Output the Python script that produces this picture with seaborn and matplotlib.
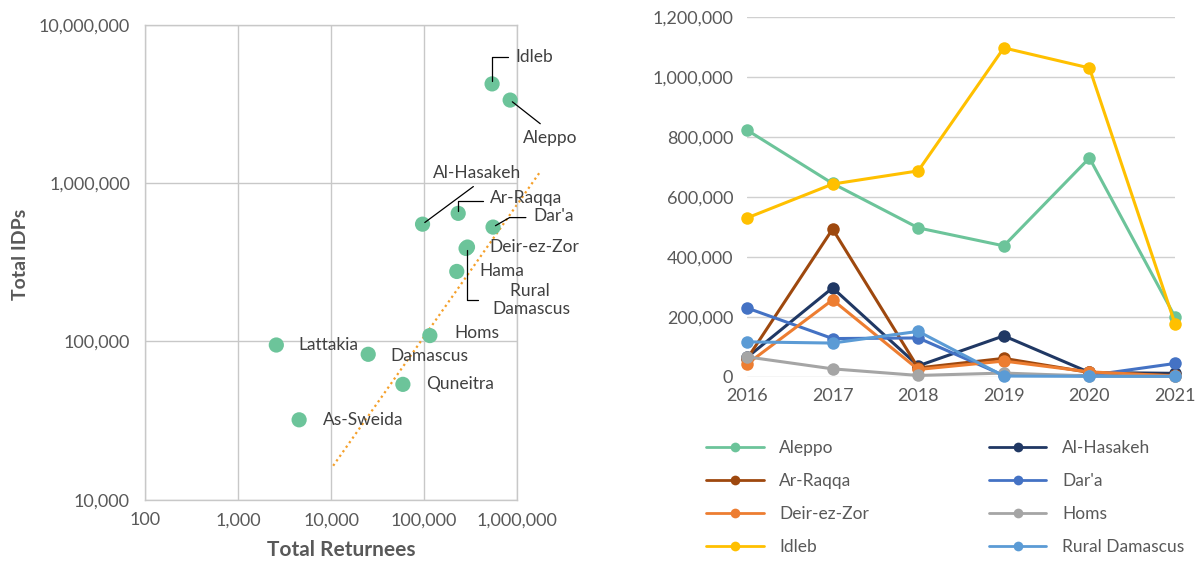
import matplotlib
matplotlib.use("Agg")
import matplotlib.pyplot as plt
import matplotlib.ticker as mticker
from matplotlib.lines import Line2D
import numpy as np
import pandas as pd
import seaborn as sns

# --- scatter data (left panel) ---
governorates = [
    "Idleb", "Aleppo", "Al-Hasakeh", "Ar-Raqqa", "Dar'a", "Deir-ez-Zor",
    "Rural Damascus", "Hama", "Homs", "Lattakia", "Damascus", "Quneitra", "As-Sweida",
]
total_returnees = [537000, 840000, 96000, 232000, 550000, 282000,
                   292000, 224000, 115000, 2570, 25000, 59000, 4520]
total_idps = [4240000, 3350000, 551000, 645000, 528000, 387000,
              395000, 277000, 109000, 95000, 83000, 53600, 32000]
trend_x = [10500, 1800000]
trend_y = [16400, 1200000]

# --- yearly IDP data (right panel) ---
years = [2016, 2017, 2018, 2019, 2020, 2021]
aleppo = [823000, 645000, 497000, 437000, 730000, 200000]
al_hasakeh = [65000, 297000, 37000, 137000, 15000, 12000]
ar_raqqa = [60000, 493000, 30000, 62000, 15000, 5000]
daraa = [230000, 128000, 130000, 5000, 5000, 45000]
deir_ez_zor = [43000, 257000, 25000, 53000, 17000, 3000]
homs = [67000, 27000, 5000, 13000, 3000, 2000]
idleb = [530000, 643000, 687000, 1097000, 1030000, 177000]
rural_damascus = [117000, 113000, 152000, 3000, 2000, 2000]

series_names = ["Aleppo", "Al-Hasakeh", "Ar-Raqqa", "Dar'a",
                "Deir-ez-Zor", "Homs", "Idleb", "Rural Damascus"]
series_values = [aleppo, al_hasakeh, ar_raqqa, daraa,
                 deir_ez_zor, homs, idleb, rural_damascus]
series_colors = ["#6CC49A", "#203864", "#9E480E", "#4472C4",
                 "#ED7D31", "#A5A5A5", "#FFC000", "#5B9BD5"]

sns.set_theme(style="white")
plt.rcParams["font.family"] = ["Lato", "DejaVu Sans"]

TICK_COLOR = "#595959"
LABEL_COLOR = "#404040"
GRID_COLOR = "#C8C8C8"

fig = plt.figure(figsize=(12, 5.66), dpi=100)

# ================= left: scatter on log-log =================
ax1 = fig.add_axes([0.121, 0.117, 0.310, 0.839])
df_sc = pd.DataFrame({"gov": governorates, "ret": total_returnees, "idp": total_idps})
sns.scatterplot(data=df_sc, x="ret", y="idp", color="#6CC49A", s=120,
                edgecolor="none", ax=ax1, zorder=3, clip_on=False)
ax1.plot(trend_x, trend_y, linestyle=(0, (1, 1.5)), color="#F5A02A",
         linewidth=1.6, clip_on=False, zorder=2)
ax1.set_xscale("log")
ax1.set_yscale("log")
ax1.set_xlim(100, 1e6)
ax1.set_ylim(1e4, 1e7)
ax1.xaxis.set_major_locator(mticker.LogLocator(base=10, numticks=10))
ax1.yaxis.set_major_locator(mticker.LogLocator(base=10, numticks=10))
ax1.xaxis.set_minor_locator(mticker.NullLocator())
ax1.yaxis.set_minor_locator(mticker.NullLocator())
fmt = mticker.FuncFormatter(lambda v, p: f"{v:,.0f}")
ax1.xaxis.set_major_formatter(fmt)
ax1.yaxis.set_major_formatter(fmt)
ax1.grid(True, color=GRID_COLOR, linewidth=1)
for sp in ax1.spines.values():
    sp.set_color(GRID_COLOR)
    sp.set_linewidth(1)
ax1.tick_params(axis="both", length=0, labelsize=13, labelcolor=TICK_COLOR)
ax1.tick_params(axis="y", pad=11)
ax1.tick_params(axis="x", pad=9)
ax1.set_xlabel("Total Returnees", fontsize=15, fontweight="bold", color=TICK_COLOR)
ax1.set_ylabel("Total IDPs", fontsize=14, fontweight="bold", color=TICK_COLOR)
ax1.xaxis.set_label_coords(0.527, -0.085)
ax1.yaxis.set_label_coords(-0.313, 0.516)

# label offsets in points: (dx, dy, ha, relpos, connection) ; None = no leader
label_style = {
    "Idleb": (17, 19, "left", (0, 0.5), "angle,angleA=0,angleB=90,rad=0"),
    "Aleppo": (29, -27, "center", (0.45, 1.0), "arc3"),
    "Al-Hasakeh": (39, 37, "center", (0.55, 0.0), "arc3"),
    "Ar-Raqqa": (23, 11, "left", (0, 0.3), "angle,angleA=0,angleB=90,rad=0"),
    "Dar'a": (29, 8, "left", (0, 0.4), "angle,angleA=0,angleB=30,rad=0"),
    "Deir-ez-Zor": (17, 1, "left", None, None),
    "Rural Damascus": (18, -38, "left", (0, 0.5), "angle,angleA=0,angleB=90,rad=0"),
    "Hama": (16, 0, "left", None, None),
    "Homs": (18, 2, "left", None, None),
    "Lattakia": (16, 0, "left", None, None),
    "Damascus": (16, -1, "left", None, None),
    "Quneitra": (17, 0, "left", None, None),
    "As-Sweida": (17, 0, "left", None, None),
}
for name, xr, yi in zip(governorates, total_returnees, total_idps):
    dx, dy, ha, relpos, conn = label_style[name]
    text = "    Rural\nDamascus" if name == "Rural Damascus" else name
    kw = {}
    if conn is not None:
        kw["arrowprops"] = dict(arrowstyle="-", color="black", lw=0.9,
                                shrinkA=3 if name != "Rural Damascus" else 8,
                                shrinkB=2, relpos=relpos, connectionstyle=conn)
    ax1.annotate(text, xy=(xr, yi), xytext=(dx, dy), textcoords="offset points",
                 ha=ha, va="center", fontsize=12.5, color=LABEL_COLOR,
                 annotation_clip=False, zorder=4, **kw)

# ================= right: yearly lines =================
ax2 = fig.add_axes([0.6225, 0.334, 0.3567, 0.636])
rows = []
for name, vals in zip(series_names, series_values):
    for yr, v in zip(years, vals):
        rows.append({"year": yr, "idps": v, "region": name})
df_ln = pd.DataFrame(rows)
palette = dict(zip(series_names, series_colors))
sns.lineplot(data=df_ln, x="year", y="idps", hue="region", hue_order=series_names,
             palette=palette, marker="o", markersize=9, markeredgewidth=0,
             linewidth=2.2, ax=ax2, legend=False, clip_on=False, zorder=3)
ax2.set_xlim(2016, 2021)
ax2.set_ylim(0, 1200000)
ax2.set_xticks(years)
ax2.set_yticks(np.arange(0, 1200001, 200000))
ax2.yaxis.set_major_formatter(fmt)
ax2.grid(True, axis="y", color="#D0D0D0", linewidth=1)
ax2.grid(False, axis="x")
for sp in ax2.spines.values():
    sp.set_visible(False)
ax2.tick_params(axis="both", length=0, labelsize=13, labelcolor=TICK_COLOR)
ax2.tick_params(axis="y", pad=10)
ax2.tick_params(axis="x", pad=8)
ax2.set_xlabel("")
ax2.set_ylabel("")

# legend: row-wise order as in reference (two columns)
handles = [Line2D([0], [0], color=c, lw=2, marker="o", markersize=7,
                  markeredgewidth=0) for c in series_colors]
order = [0, 2, 4, 6, 1, 3, 5, 7]
fig.legend([handles[i] for i in order], [series_names[i] for i in order],
           ncol=2, loc="upper left", bbox_to_anchor=(0.5887, 0.222),
           frameon=False, fontsize=12.5, handlelength=3.3, handletextpad=0.9,
           columnspacing=6.9, labelspacing=0.97, borderpad=0, borderaxespad=0,
           labelcolor=TICK_COLOR)

fig.savefig("out.png", dpi=100)
